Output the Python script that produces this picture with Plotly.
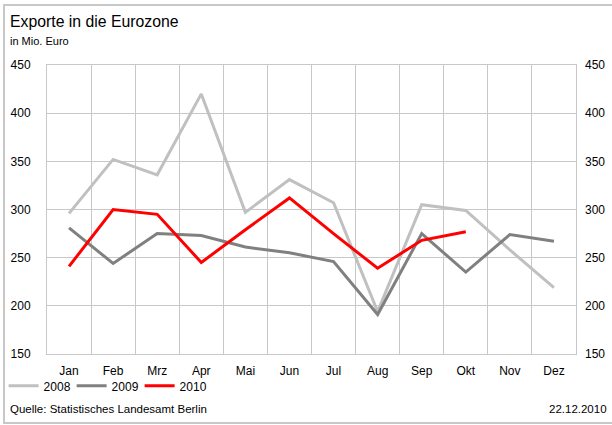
import plotly.graph_objects as go

months = ["Jan", "Feb", "Mrz", "Apr", "Mai", "Jun", "Jul", "Aug", "Sep", "Okt", "Nov", "Dez"]
exports_2008 = [296, 352, 336, 420, 297, 331, 307, 194, 305, 299, 258, 219]
exports_2009 = [281, 244, 275, 273, 261, 255, 246, 191, 275, 235, 274, 267]
exports_2010 = [241, 300, 295, 245, 279, 312, 275, 239, 268, 277]

FONT = "Liberation Sans, Arial, sans-serif"
GRID = "#c8c8c8"

fig = go.Figure()
fig.add_trace(go.Scatter(x=months, y=exports_2008, name="2008", mode="lines",
                         line=dict(color="#c0c0c0", width=3)))
fig.add_trace(go.Scatter(x=months, y=exports_2009, name="2009", mode="lines",
                         line=dict(color="#808080", width=3)))
fig.add_trace(go.Scatter(x=months[:len(exports_2010)], y=exports_2010, name="2010", mode="lines",
                         line=dict(color="#ff0000", width=3)))
# invisible trace so the right-hand value axis is drawn
fig.add_trace(go.Scatter(x=months, y=exports_2008, yaxis="y2", mode="lines",
                         line=dict(width=0), showlegend=False, hoverinfo="skip", opacity=0))

fig.update_layout(
    width=612, height=425,
    margin=dict(l=47, r=36, t=65, b=71, autoexpand=False),
    paper_bgcolor="white", plot_bgcolor="white",
    font=dict(family=FONT, size=12, color="black"),
    showlegend=True,
    legend=dict(orientation="h", x=-0.082, xanchor="left", y=-0.06, yanchor="top",
                font=dict(size=12), entrywidth=23, entrywidthmode="pixels",
                itemwidth=30, tracegroupgap=0, bgcolor="rgba(0,0,0,0)"),
    xaxis=dict(type="category", categoryorder="array", categoryarray=months,
               range=[-0.5, 11.5], automargin=False,
               tickson="boundaries", showgrid=True, gridcolor=GRID, gridwidth=1,
               ticks="", ticklabelstandoff=6, showline=True, linecolor=GRID,
               mirror=True, zeroline=False, tickfont=dict(size=12)),
    yaxis=dict(range=[150, 450], dtick=50, showgrid=True, gridcolor=GRID,
               automargin=False,
               ticks="", ticklabelstandoff=13, showline=True, linecolor=GRID,
               mirror=True, zeroline=False, tickfont=dict(size=12)),
    yaxis2=dict(range=[150, 450], dtick=50, overlaying="y", side="right",
                automargin=False,
                showgrid=False, ticks="", ticklabelstandoff=8, showline=False,
                zeroline=False, tickfont=dict(size=12)),
)

pw, ph = 612 - 47 - 36, 425 - 65 - 71


def px_x(x):
    return (x - 47) / pw


def px_y(y):
    return (425 - 71 - y) / ph


# outer frame
fig.add_shape(type="rect", xref="paper", yref="paper",
              x0=px_x(4), x1=px_x(640), y0=px_y(423), y1=px_y(5),
              line=dict(color="#c8c8c8", width=2), layer="below")

fig.add_annotation(text="Exporte in die Eurozone", xref="paper", yref="paper",
                   x=px_x(8), y=px_y(21), xanchor="left", yanchor="middle",
                   showarrow=False, font=dict(size=15.8))
fig.add_annotation(text="in Mio. Euro", xref="paper", yref="paper",
                   x=px_x(8), y=px_y(41), xanchor="left", yanchor="middle",
                   showarrow=False, font=dict(size=11))
fig.add_annotation(text="Quelle: Statistisches Landesamt Berlin", xref="paper", yref="paper",
                   x=px_x(8), y=px_y(409), xanchor="left", yanchor="middle",
                   showarrow=False, font=dict(size=11.5))
fig.add_annotation(text="22.12.2010", xref="paper", yref="paper",
                   x=px_x(609), y=px_y(409), xanchor="right", yanchor="middle",
                   showarrow=False, font=dict(size=11.5))

fig.write_html("out.html")
